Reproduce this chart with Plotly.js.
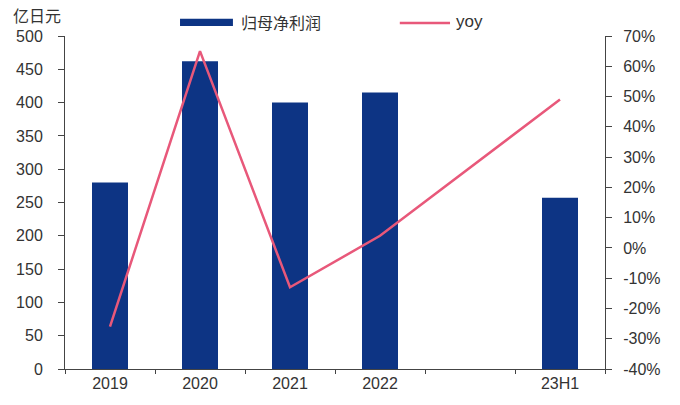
<!DOCTYPE html>
<html>
<head>
<meta charset="utf-8">
<script src="https://cdn.plot.ly/plotly-3.0.1.min.js"></script>
<style>
  html, body { margin: 0; padding: 0; background: #ffffff; }
  #chart { width: 680px; height: 405px; }
</style>
</head>
<body>
<div id="chart"></div>
<script>
// Categories (one empty slot between 2022 and the half-year)
const categories = ['2019', '2020', '2021', '2022', ' ', '23H1'];
// Net profit attributable to parent, 100 million JPY
const profit = [280, 462, 400, 415, null, 257];
// Year-on-year growth, %
const yoyCats = ['2019', '2020', '2021', '2022', '23H1'];
const yoy = [-26, 65, -13, 4, 49];
// Right-axis tick labels (plain hyphen for negatives)
const pctTickVals = [-40, -30, -20, -10, 0, 10, 20, 30, 40, 50, 60, 70];
const pctTickText = ['-40%', '-30%', '-20%', '-10%', '0%', '10%', '20%', '30%', '40%', '50%', '60%', '70%'];

const barColor = '#0d3484';
const lineColor = '#e8587a';
const axisColor = '#444444';
const textFont = { family: 'Liberation Sans, Arial, sans-serif', size: 16, color: '#333333' };
const cjkFont = { family: 'Noto Sans CJK SC, sans-serif', size: 16, color: '#333333' };

const traces = [
  {
    type: 'bar',
    name: '归母净利润',
    x: categories,
    y: profit,
    marker: { color: barColor },
    width: 0.4,
    showlegend: false,
    hoverinfo: 'x+y'
  },
  {
    type: 'scatter',
    mode: 'lines',
    name: 'yoy',
    x: yoyCats,
    y: yoy,
    yaxis: 'y2',
    line: { color: lineColor, width: 2.5 },
    connectgaps: true,
    showlegend: false
  }
];

const layout = {
  width: 680,
  height: 405,
  margin: { l: 65, r: 75, t: 36, b: 36 },
  paper_bgcolor: '#ffffff',
  plot_bgcolor: '#ffffff',
  font: textFont,
  showlegend: false,
  xaxis: {
    type: 'category',
    categoryorder: 'array',
    categoryarray: categories,
    range: [-0.5, 5.5],
    showline: true,
    linecolor: axisColor,
    linewidth: 1,
    ticks: 'outside',
    tickson: 'boundaries',
    ticklen: 4,
    tickcolor: axisColor,
    showgrid: false,
    zeroline: false,
    tickfont: textFont
  },
  yaxis: {
    range: [0, 500],
    dtick: 50,
    showline: true,
    linecolor: axisColor,
    linewidth: 1,
    ticks: 'outside',
    ticklen: 6,
    tickcolor: axisColor,
    ticklabelstandoff: 12,
    showgrid: false,
    zeroline: false,
    tickfont: textFont
  },
  yaxis2: {
    overlaying: 'y',
    side: 'right',
    range: [-40, 70],
    tickmode: 'array',
    tickvals: pctTickVals,
    ticktext: pctTickText,
    showline: true,
    linecolor: axisColor,
    linewidth: 1,
    ticks: 'outside',
    ticklen: 6,
    tickcolor: axisColor,
    ticklabelstandoff: 8,
    showgrid: false,
    zeroline: false,
    tickfont: textFont
  },
  shapes: [
    // legend swatch: bars
    { type: 'rect', xref: 'paper', yref: 'paper',
      x0: 0.213, x1: 0.311, y0: 1.030, y1: 1.052,
      fillcolor: barColor, line: { width: 0 } },
    // legend swatch: line
    { type: 'line', xref: 'paper', yref: 'paper',
      x0: 0.620, x1: 0.713, y0: 1.039, y1: 1.039,
      line: { color: lineColor, width: 2.5 } }
  ],
  annotations: [
    { xref: 'paper', yref: 'paper', x: -0.100, y: 1.062,
      xanchor: 'left', yanchor: 'middle', showarrow: false,
      text: '亿日元',
      font: cjkFont },
    { xref: 'paper', yref: 'paper', x: 0.322, y: 1.041,
      xanchor: 'left', yanchor: 'middle', showarrow: false,
      text: '归母净利润',
      font: cjkFont },
    { xref: 'paper', yref: 'paper', x: 0.720, y: 1.045,
      xanchor: 'left', yanchor: 'middle', showarrow: false,
      text: 'yoy',
      font: { family: textFont.family, size: 17, color: '#333333' } }
  ]
};

Plotly.newPlot('chart', traces, layout, { displayModeBar: false, staticPlot: true });
</script>
</body>
</html>
